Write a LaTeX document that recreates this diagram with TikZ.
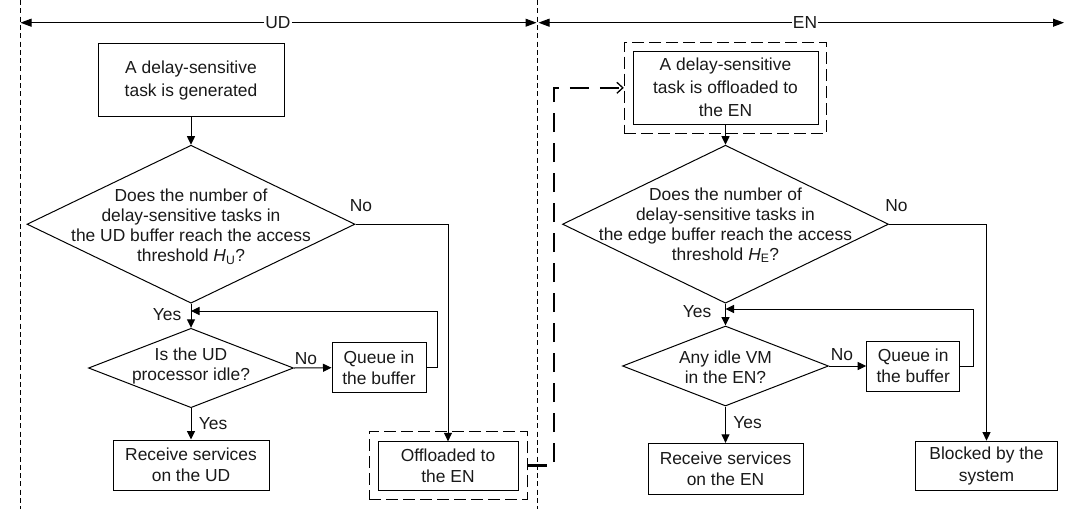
\documentclass[tikz,border=0pt]{standalone}
\usepackage{fontspec}
\setmainfont{Liberation Sans}
\usetikzlibrary{shapes.geometric,arrows.meta}

\tikzset{
  lbl/.style={font=\fontsize{17.4}{20}\selectfont, align=center, inner sep=0pt, text=black!90},
  box/.style={draw, line width=1pt, inner sep=0pt, font=\fontsize{17.4}{21.5}\selectfont,
    align=center, text=black!90},
  decision/.style={diamond, draw, line width=1pt, inner sep=0pt},
  flow/.style={line width=1pt, -{Triangle[length=8.5pt,width=8pt]}},
  frame/.style={draw, line width=1pt, dash pattern=on 12pt off 5pt, inner sep=0pt},
  divider/.style={line width=0.8pt, dash pattern=on 5pt off 3.3pt},
  span/.style={line width=1pt, -{Triangle[length=11pt,width=8pt]}},
  handoff/.style={line width=2.4pt, dash pattern=on 19pt off 11pt,
    -{Straight Barb[length=6pt,width=11pt,line width=1.3pt]}}
}

\begin{document}
\begin{tikzpicture}[x=1pt,y=-1pt]
\useasboundingbox (0,0) rectangle (1066,509);

% lane dividers
\draw[divider] (20.5,0) -- (20.5,509);
\draw[divider] (537.5,0) -- (537.5,509);

% lane spans
\node[lbl, inner sep=1pt] (ud) at (278,22.7) {UD};
\node[lbl, inner sep=1pt] (en) at (805,22.7) {EN};
\coordinate (udL) at (20.5,22.7);
\coordinate (udR) at (536.5,22.7);
\coordinate (enL) at (538.5,22.7);
\coordinate (enR) at (1064,22.7);
\draw[span] (ud) -- (udL);
\draw[span] (ud) -- (udR);
\draw[span] (en) -- (enL);
\draw[span] (en) -- (enR);

% user device lane
\node[box, minimum width=186pt, minimum height=73.4pt, font=\fontsize{17.4}{23}\selectfont] (gen) at (191,80) {A delay-sensitive\\task is generated};
\node[decision, minimum width=328pt, minimum height=158pt] (q1) at (191,224.2) {};
\node[lbl] (q1text) at (191,227) {Does the number of\\delay-sensitive tasks in\\the UD buffer reach the access\\threshold \textit{H}\textsubscript{U}?};
\node[lbl] (q1no) at (361,206) {No};
\node[lbl] (q1yes) at (167,315) {Yes};
\node[decision, minimum width=205pt, minimum height=79.4pt] (q2) at (191,368) {};
\node[lbl] (q2text) at (191,366) {Is the UD\\processor idle?};
\node[lbl] (q2no) at (306,359) {No};
\node[box, minimum width=94pt, minimum height=50pt] (queue1) at (379,367.7) {Queue in\\the buffer};
\node[lbl] (q2yes) at (213,424) {Yes};
\node[box, minimum width=156pt, minimum height=50pt] (rec1) at (191,465) {Receive services\\on the UD};
\node[box, minimum width=140pt, minimum height=48.3pt] (off) at (448,466) {Offloaded to\\the EN};
\node[frame, minimum width=158pt, minimum height=67.6pt] (offframe) at (448,465.5) {};

\draw[flow] (gen.south) -- (q1.north);
\draw[flow] (q1.south) -- (q2.north);
\draw[flow] (q1.east) -| (off.north);
\draw[flow] (q2.east) -- (queue1.west);
\coordinate (loop1) at (437,311);
\coordinate (join1) at (191,311);
\draw[flow] (queue1.east) -| (loop1) -- (join1);
\draw[flow] (q2.south) -- (rec1.north);

% edge node lane
\node[box, minimum width=185pt, minimum height=73pt, font=\fontsize{17.4}{23}\selectfont] (arrive) at (725.5,87.5) {A delay-sensitive\\task is offloaded to\\the EN};
\node[frame, minimum width=202.4pt, minimum height=91pt] (arriveframe) at (725.5,87.8) {};
\node[decision, minimum width=326pt, minimum height=158pt] (q3) at (725.5,224.2) {};
\node[lbl] (q3text) at (725.5,225) {Does the number of\\delay-sensitive tasks in\\the edge buffer reach the access\\threshold \textit{H}\textsubscript{E}?};
\node[lbl] (q3no) at (896.5,206) {No};
\node[lbl] (q3yes) at (697,311.5) {Yes};
\node[decision, minimum width=206pt, minimum height=80pt] (q4) at (725.5,366) {};
\node[lbl] (q4text) at (725.5,367) {Any idle VM\\in the EN?};
\node[lbl] (q4no) at (842,355) {No};
\node[box, minimum width=93pt, minimum height=50pt] (queue2) at (913.2,366) {Queue in\\the buffer};
\node[lbl] (q4yes) at (747.6,423) {Yes};
\node[box, minimum width=155pt, minimum height=50.7pt] (rec2) at (725.5,468.7) {Receive services\\on the EN};
\node[box, minimum width=141.7pt, minimum height=49.7pt] (blk) at (986.5,466) {Blocked by the\\system};

\draw[flow] (arrive.south) -- (q3.north);
\draw[flow] (q3.south) -- (q4.north);
\draw[flow] (q3.east) -| (blk.north);
\draw[flow] (q4.east) -- (queue2.west);
\coordinate (loop2) at (973.5,309);
\coordinate (join2) at (725.5,309);
\draw[flow] (queue2.east) -| (loop2) -- (join2);
\draw[flow] (q4.south) -- (rec2.north);

% hand-off from the user device to the edge node
\coordinate (riser) at (554,87.8);
\draw[handoff] (offframe.east) -| (riser) -- (arriveframe.west);
\end{tikzpicture}
\end{document}
